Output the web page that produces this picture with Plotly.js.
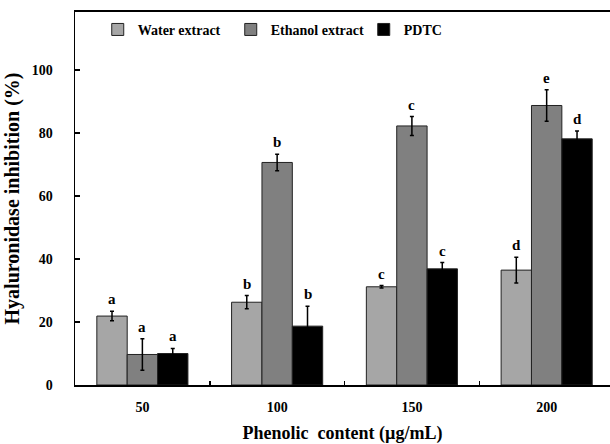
<!DOCTYPE html>
<html>
<head>
<meta charset="utf-8">
<script src="https://cdn.plot.ly/plotly-3.0.1.min.js"></script>
<style>html,body{margin:0;padding:0;background:#fff;}#chart{width:610px;height:444px;}</style>
</head>
<body>
<div id="chart"></div>
<script>
var categories = ["50", "100", "150", "200"];
var seriesNames = ["Water extract", "Ethanol extract", "PDTC"];
var waterValues = [21.9, 26.3, 31.2, 36.5];
var waterErrors = [1.5, 2.1, 0.4, 4.1];
var ethanolValues = [9.7, 70.7, 82.3, 88.8];
var ethanolErrors = [5.0, 2.6, 3.0, 5.0];
var pdtcValues = [10.0, 18.7, 36.9, 78.2];
var pdtcErrors = [1.6, 6.3, 2.0, 2.5];
var waterLetters = ["a", "b", "c", "d"];
var ethanolLetters = ["a", "b", "c", "e"];
var pdtcLetters = ["a", "b", "c", "d"];
var yTickValues = [0, 20, 40, 60, 80, 100];

var colors = ["#a6a6a6", "#808080", "#000000"];
var vals = [waterValues, ethanolValues, pdtcValues];
var errs = [waterErrors, ethanolErrors, pdtcErrors];
var letters = [waterLetters, ethanolLetters, pdtcLetters];
var font = "Liberation Serif, Times New Roman, serif";
var bargap = 0.324;
var barW = (1 - bargap) / 3;

var traces = [];
for (var s = 0; s < 3; s++) {
  traces.push({
    type: "bar",
    name: seriesNames[s],
    x: categories,
    y: vals[s],
    marker: {color: colors[s], line: {color: "#222", width: 1}},
    error_y: {type: "data", array: errs[s], visible: true, color: "#000", thickness: 1.5, width: 2}
  });
}

var annotations = [];
for (var s = 0; s < 3; s++) {
  for (var i = 0; i < categories.length; i++) {
    annotations.push({
      x: i + (s - 1) * barW,
      y: vals[s][i] + errs[s][i],
      xref: "x", yref: "y",
      text: "<b>" + letters[s][i] + "</b>",
      showarrow: false,
      yanchor: "bottom",
      yshift: 2,
      font: {family: font, size: 15, color: "#000"}
    });
  }
}

var layout = {
  width: 610, height: 444,
  margin: {l: 75, r: 0, t: 12, b: 59},
  paper_bgcolor: "#fff", plot_bgcolor: "#fff",
  barmode: "group", bargap: bargap, bargroupgap: 0,
  showlegend: true,
  legend: {orientation: "h", x: 0.0425, y: 0.995, xanchor: "left", yanchor: "top",
           font: {family: font, size: 14, color: "#000", weight: "bold"}, bgcolor: "rgba(0,0,0,0)",
           itemwidth: 30, entrywidth: 88, traceorder: "normal"},
  xaxis: {
    type: "category",
    range: [-0.5, 3.47],
    showline: true, linecolor: "#000", linewidth: 2, mirror: true,
    ticks: "inside", tickson: "boundaries", ticklen: 4, tickwidth: 1.5, tickcolor: "#000",
    tickfont: {family: font, size: 14, color: "#000", weight: "bold"},
    ticklabelstandoff: 8,
    showgrid: false, zeroline: false,
    title: {text: "<b>Phenolic  content (µg/mL)</b>", font: {family: font, size: 18, color: "#000"}, standoff: 14}
  },
  yaxis: {
    range: [0, 118.5],
    tickvals: yTickValues,
    showline: true, linecolor: "#000", linewidth: 1.5, mirror: true,
    ticks: "inside", ticklen: 5, tickwidth: 1.5, tickcolor: "#000",
    tickfont: {family: font, size: 14, color: "#000", weight: "bold"},
    ticklabelstandoff: 18,
    showgrid: false, zeroline: false,
    title: {text: "<b>Hyaluronidase inhibition (%)</b>", font: {family: font, size: 20, color: "#000"}, standoff: 6}
  },
  annotations: annotations
};

Plotly.newPlot("chart", traces, layout, {displayModeBar: false, staticPlot: true});
</script>
</body>
</html>
